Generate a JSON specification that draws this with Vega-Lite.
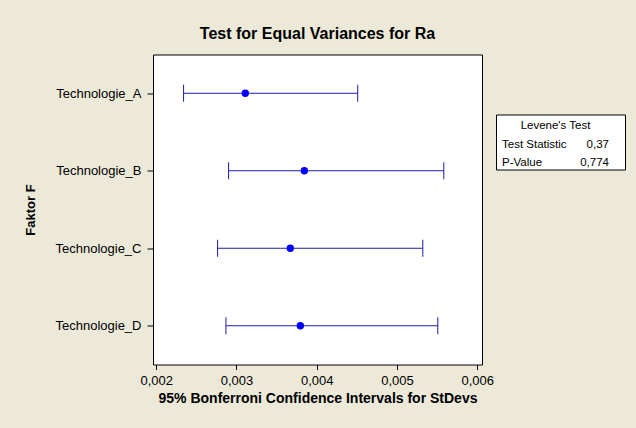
{
  "$schema": "https://vega.github.io/schema/vega-lite/v6.json",
  "background": "#ECE9D8",
  "padding": {"left": 24, "top": 24.5, "right": 20, "bottom": 35},
  "datasets": {
    "intervals": [
      {"group": "Technologie_A", "lower": 0.002341, "stdev": 0.003110, "upper": 0.004511},
      {"group": "Technologie_B", "lower": 0.002902, "stdev": 0.003846, "upper": 0.005584},
      {"group": "Technologie_C", "lower": 0.002765, "stdev": 0.003671, "upper": 0.005322},
      {"group": "Technologie_D", "lower": 0.002869, "stdev": 0.003796, "upper": 0.005509}
    ],
    "levene": [
      {"row": "Levene's Test", "col": "Header", "text": "Levene's Test"},
      {"row": "Test Statistic", "col": "Label", "text": "Test Statistic"},
      {"row": "Test Statistic", "col": "Value", "text": "0,37"},
      {"row": "P-Value", "col": "Label", "text": "P-Value"},
      {"row": "P-Value", "col": "Value", "text": "0,774"}
    ]
  },
  "bounds": "flush",
  "spacing": 14,
  "hconcat": [
    {
      "width": 329,
      "height": 310,
      "title": {"text": "Test for Equal Variances for Ra", "frame": "group", "anchor": "middle", "offset": 13},
      "data": {"name": "intervals"},
      "encoding": {
        "y": {
          "field": "group", "type": "nominal", "sort": null,
          "scale": {"type": "point", "padding": 0.5},
          "axis": {"title": "Faktor F", "titlePadding": 17, "labelPadding": 6, "tickSize": 6}
        }
      },
      "layer": [
        {
          "mark": {"type": "rule", "color": "#1C1CA6", "strokeWidth": 1},
          "encoding": {
            "x": {
              "field": "lower", "type": "quantitative",
              "title": "95% Bonferroni Confidence Intervals for StDevs",
              "scale": {"domain": [0.00196, 0.00606], "nice": false, "zero": false},
              "axis": {"values": [0.002, 0.003, 0.004, 0.005, 0.006], "labelExpr": "replace(format(datum.value, '.3f'), '.', ',')"}
            },
            "x2": {"field": "upper"}
          }
        },
        {
          "mark": {"type": "tick", "color": "#1C1CA6", "thickness": 1, "size": 17, "opacity": 1},
          "encoding": {"x": {"field": "lower", "type": "quantitative", "title": "95% Bonferroni Confidence Intervals for StDevs"}}
        },
        {
          "mark": {"type": "tick", "color": "#1C1CA6", "thickness": 1, "size": 17, "opacity": 1},
          "encoding": {"x": {"field": "upper", "type": "quantitative", "title": "95% Bonferroni Confidence Intervals for StDevs"}}
        },
        {
          "mark": {"type": "point", "filled": true, "color": "#0000FF", "size": 55, "opacity": 1},
          "encoding": {"x": {"field": "stdev", "type": "quantitative", "title": "95% Bonferroni Confidence Intervals for StDevs"}}
        }
      ]
    },
    {
      "bounds": "flush",
      "spacing": 0,
      "vconcat": [
        {
          "width": 129,
          "height": 60,
          "data": {"values": []},
          "mark": "text",
          "encoding": {},
          "view": {"stroke": null, "fill": null}
        },
        {
          "width": 129,
          "height": 55,
          "data": {"name": "levene"},
          "view": {"stroke": "black", "strokeWidth": 1, "fill": "white"},
          "encoding": {
            "x": {
              "field": "col", "type": "nominal",
              "scale": {"type": "point", "domain": ["Label", "Header", "Value"], "range": [6, 113], "padding": 0},
              "axis": null
            },
            "y": {
              "field": "row", "type": "nominal",
              "scale": {"type": "point", "domain": ["Levene's Test", "Test Statistic", "P-Value"], "padding": 0.5},
              "axis": null
            },
            "text": {"field": "text", "type": "nominal"}
          },
          "layer": [
            {"transform": [{"filter": "datum.col === 'Header'"}], "mark": {"type": "text", "align": "center", "baseline": "middle", "dy": 2.5, "fontSize": 11.5, "font": "Liberation Sans", "color": "black"}},
            {"transform": [{"filter": "datum.col === 'Label'"}], "mark": {"type": "text", "align": "left", "baseline": "middle", "dy": 2.5, "fontSize": 11.5, "font": "Liberation Sans", "color": "black"}},
            {"transform": [{"filter": "datum.col === 'Value'"}], "mark": {"type": "text", "align": "right", "baseline": "middle", "dy": 2.5, "fontSize": 11.5, "font": "Liberation Sans", "color": "black"}}
          ]
        }
      ]
    }
  ],
  "config": {
    "font": "Liberation Sans",
    "view": {"stroke": "black", "strokeWidth": 1, "fill": "white"},
    "title": {"font": "Liberation Sans", "fontSize": 16, "fontWeight": "bold", "color": "black"},
    "axis": {
      "domain": false,
      "grid": false,
      "tickColor": "black",
      "tickSize": 5,
      "labelFont": "Liberation Sans",
      "labelFontSize": 13,
      "labelColor": "black",
      "titleFont": "Liberation Sans",
      "titleFontSize": 13,
      "titleFontWeight": "bold",
      "titleColor": "black"
    },
    "axisX": {"labelPadding": 5, "titlePadding": 4, "titleFontSize": 14}
  }
}
